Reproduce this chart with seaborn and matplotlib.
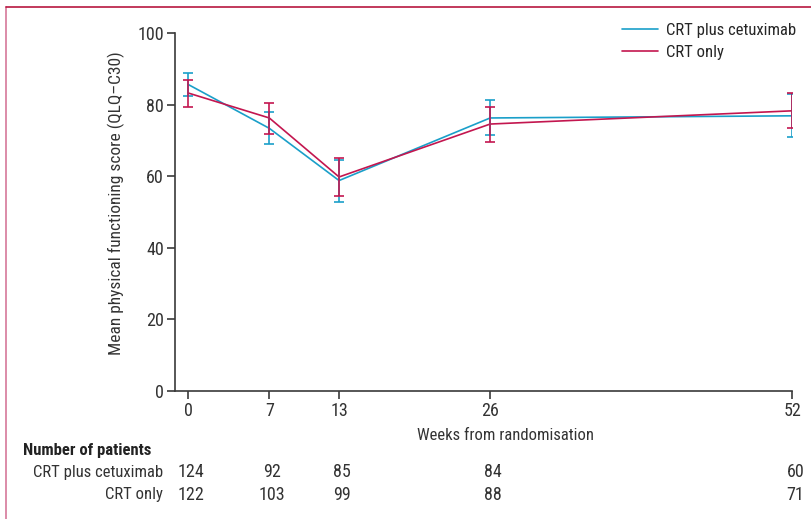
import pandas as pd
import matplotlib.pyplot as plt
import matplotlib.lines as mlines
import seaborn as sns

# values
weeks = [0, 7, 13, 26, 52]
cet_mean = [85.7, 73.4, 58.8, 76.3, 76.9]
cet_lo = [82.5, 68.9, 52.9, 71.4, 70.9]
cet_hi = [89.0, 78.0, 64.6, 81.3, 82.9]
crt_mean = [83.3, 76.3, 59.8, 74.6, 78.3]
crt_lo = [79.5, 71.9, 54.6, 69.7, 73.5]
crt_hi = [86.9, 80.5, 65.1, 79.4, 83.2]
n_cet = [124, 92, 85, 84, 60]
n_crt = [122, 103, 99, 88, 71]
groups = ["CRT plus cetuximab", "CRT only"]

BLUE = "#1a9fc9"
RED = "#c3164f"
GREY = "#3a3a3a"
TXT = "#333333"
FS = 12

sns.set_style("ticks")
plt.rcParams['font.family'] = ['Roboto Condensed', 'DejaVu Sans']
plt.rcParams['font.size'] = FS

df = pd.DataFrame({
    "week": weeks * 2,
    "score": cet_mean + crt_mean,
    "group": [groups[0]] * len(weeks) + [groups[1]] * len(weeks),
})

fig = plt.figure(figsize=(8.11, 5.19), dpi=100)
ax = fig.add_axes([0.216, 0.247, 0.761, 0.689])

sns.lineplot(data=df, x="week", y="score", hue="group", palette=[BLUE, RED],
             linewidth=1.2, ax=ax, legend=True)

for mean, lo, hi, col in [(cet_mean, cet_lo, cet_hi, BLUE), (crt_mean, crt_lo, crt_hi, RED)]:
    err = [[m - l for m, l in zip(mean, lo)], [h - m for m, h in zip(mean, hi)]]
    ax.errorbar(weeks, mean, yerr=err, fmt="none", ecolor=col, elinewidth=1.4,
                capsize=3.5, capthick=1.4, alpha=0.85)

ax.set_xlim(-1.1, 52)
ax.set_ylim(0, 100)
ax.set_xticks(weeks)
ax.set_yticks([0, 20, 40, 60, 80, 100])
sns.despine(ax=ax)
for s in ["left", "bottom"]:
    ax.spines[s].set_color(GREY)
    ax.spines[s].set_linewidth(1.2)
ax.tick_params(axis="both", colors=GREY, labelcolor=TXT, labelsize=13,
               length=6, width=1.2, pad=2)
ax.set_xlabel("Weeks from randomisation", fontsize=FS, color=TXT)
ax.xaxis.set_label_coords(0.535, -0.105)
ax.set_ylabel("Mean physical functioning score (QLQ–C30)", fontsize=12.5, color=TXT)
ax.yaxis.set_label_coords(-0.082, 0.525)

leg = ax.legend(frameon=False, loc="upper right", bbox_to_anchor=(1.03, 1.07),
                fontsize=FS, handlelength=2.2, handletextpad=0.45, labelspacing=0.4)
for line in leg.get_lines():
    line.set_linewidth(1.2)

# number at risk table
fig.text(23 / 811, 1 - 451 / 519, "Number of patients", fontsize=FS,
         fontweight="bold", va="center", ha="left", color="#222222")
trans = ax.get_xaxis_transform()
for row_y, label, counts in [(472, groups[0], n_cet), (495, groups[1], n_crt)]:
    fy = 1 - row_y / 519
    fig.text(163 / 811, fy, label, fontsize=FS, va="center", ha="right", color=TXT)
    ay = (fy - 0.247) / 0.689
    for w, n in zip(weeks, counts):
        ax.text(w + 0.25, ay, str(n), transform=trans, fontsize=13, va="center",
                ha="center", color=TXT, clip_on=False)

# journal frame
fig.add_artist(mlines.Line2D([6 / 811, 6 / 811], [0, 1 - 7 / 519],
                             transform=fig.transFigure, color="#d6789a", lw=1.2))
fig.add_artist(mlines.Line2D([6 / 811, 1], [1 - 7 / 519, 1 - 7 / 519],
                             transform=fig.transFigure, color="#b8163f", lw=1.2))

fig.savefig("out.png", dpi=100)
